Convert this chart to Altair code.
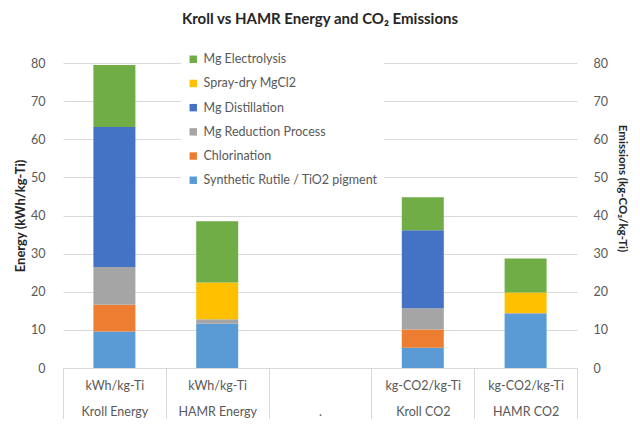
import altair as alt
import pandas as pd

# categories (x) and their unit line
bars = ["Kroll Energy", "HAMR Energy", ".", "Kroll CO2", "HAMR CO2"]
units = ["kWh/kg-Ti", "kWh/kg-Ti", "", "kg-CO2/kg-Ti", "kg-CO2/kg-Ti"]

# stack components, bottom to top
components = ["Synthetic Rutile / TiO2 pigment", "Chlorination", "Mg Reduction Process",
              "Mg Distillation", "Spray-dry MgCl2", "Mg Electrolysis"]
colors = ["#5B9BD5", "#ED7D31", "#A5A5A5", "#4472C4", "#FFC000", "#70AD47"]

kroll_energy = [9.6, 7.0, 9.9, 36.7, 0.0, 16.3]
hamr_energy = [11.6, 0.0, 1.2, 0.0, 9.6, 16.1]
kroll_co2 = [5.3, 4.8, 5.6, 20.4, 0.0, 8.7]
hamr_co2 = [14.2, 0.0, 0.2, 0.0, 5.4, 8.9]

series = {"Kroll Energy": kroll_energy, "HAMR Energy": hamr_energy,
          "Kroll CO2": kroll_co2, "HAMR CO2": hamr_co2}

keys = [u + "|" + b for u, b in zip(units, bars)]
rows = []
for u, b in zip(units, bars):
    if b not in series:
        continue
    for i, (c, v) in enumerate(zip(components, series[b])):
        rows.append({"cat": u + "|" + b, "component": c, "value": v, "ord": i})
df = pd.DataFrame(rows)

legend_order = components[::-1]
legend_colors = colors[::-1]

FONT = "Lato"
x_enc = alt.X("cat:N", scale=alt.Scale(domain=keys, paddingInner=0, paddingOuter=0),
              axis=alt.Axis(title=None, labelExpr="split(datum.label, '|')", labelAngle=0,
                            labelFontSize=12.5, labelColor="#595959", labelFont=FONT,
                            labelLineHeight=26, labelPadding=-40,
                            tickBand="extent", tickSize=51, tickColor="#D9D9D9",
                            domainColor="#D9D9D9", grid=False))

base = alt.Chart(df)
bars_layer = base.mark_bar(size=42).encode(
    x=x_enc,
    y=alt.Y("sum(value):Q", scale=alt.Scale(domain=[0, 80]),
            axis=alt.Axis(title="Energy (kWh/kg-Ti)", values=list(range(0, 81, 10)),
                          ticks=False, domain=False, gridColor="#D9D9D9",
                          labelFontSize=12.5, labelColor="#595959", labelFont=FONT,
                          labelPadding=18, titleFont=FONT, titleFontSize=13,
                          titleColor="#262626", titleFontWeight="bold", titlePadding=3)),
    color=alt.Color("component:N", scale=alt.Scale(domain=legend_order, range=legend_colors),
                    legend=alt.Legend(title=None, orient="none", legendX=118, legendY=-16,
                                      symbolType="square", symbolSize=55, symbolStrokeWidth=0,
                                      labelFontSize=12.5, labelColor="#595959", labelFont=FONT,
                                      labelLimit=300,
                                      rowPadding=11.2, fillColor="white", padding=6)),
    order=alt.Order("ord:Q", sort="ascending"),
)

right_layer = base.mark_bar(size=42, opacity=0).encode(
    x=x_enc,
    y=alt.Y("sum(value):Q", scale=alt.Scale(domain=[0, 80]),
            axis=alt.Axis(title="Emissions (kg-CO₂/kg-Ti)", orient="right",
                          values=list(range(0, 81, 10)), grid=False,
                          ticks=False, domain=False,
                          labelFontSize=12.5, labelColor="#595959", labelFont=FONT,
                          labelPadding=16, titleFont=FONT, titleFontSize=11.5,
                          titleColor="#262626", titleFontWeight="bold", titlePadding=9,
                          titleY=125)),
)

chart = alt.layer(bars_layer, right_layer).resolve_scale(y="independent").properties(
    width=514, height=305,
    autosize=alt.AutoSizeParams(type="none"),
    padding={"left": 55, "top": 55, "right": 55, "bottom": 51},
    title=alt.Title("Kroll vs HAMR Energy and CO₂ Emissions", font=FONT, fontSize=15,
                    fontWeight="bold", color="#262626", anchor="middle", offset=20),
).configure_view(stroke=None)

chart.save("out.html", embed_options={"renderer": "svg", "actions": False})
